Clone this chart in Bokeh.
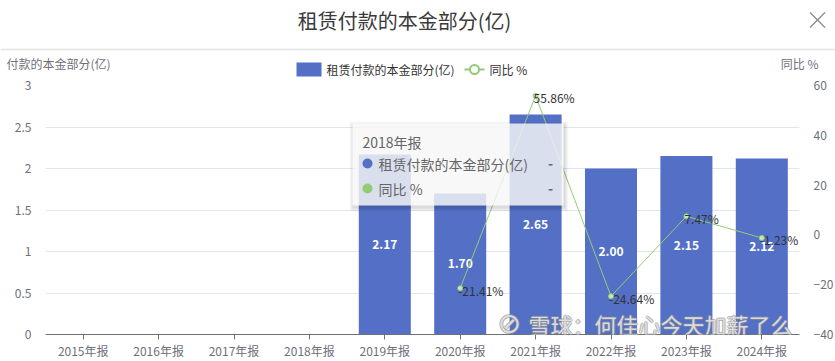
from bokeh.plotting import figure
from bokeh.models import (ColumnDataSource, FactorRange, Range1d, LinearAxis, FixedTicker,
                          NumeralTickFormatter, Label)
from bokeh.layouts import column
from bokeh.embed import file_html
from bokeh.resources import INLINE
from bokeh.core.properties import value

# ---------------- data ----------------
chart_title = "租赁付款的本金部分(亿)"
years = ["2015年报", "2016年报", "2017年报", "2018年报", "2019年报",
         "2020年报", "2021年报", "2022年报", "2023年报", "2024年报"]
principal = [None, None, None, None, 2.17, 1.70, 2.65, 2.00, 2.15, 2.12]
yoy_pct = [None, None, None, None, None, -21.41, 55.86, -24.64, 7.47, -1.23]
left_ticks = [0, 0.5, 1, 1.5, 2, 2.5, 3]
right_ticks = [-40, -20, 0, 20, 40, 60]
bar_series_name = "租赁付款的本金部分(亿)"
line_series_name = "同比 %"
left_axis_title = "付款的本金部分(亿)"   # the part visible at the left edge
right_axis_title = "同比 %"
tooltip_title = "2018年报"
tooltip_values = ["-", "-"]
watermark_text = "雪球：何佳心今天加薪了么"

FONT = "Noto Sans CJK SC"
BLUE = "#5470c6"
GREEN = "#91cc75"
AXIS_C = "#6e7079"

W = 835
HH = 77

# ---------------- header (title, close icon, axis titles, legend) ----------------
hdr = figure(width=W, height=HH, x_range=Range1d(0, W), y_range=Range1d(HH, 0),
             x_axis_type=None, y_axis_type=None, toolbar_location=None,
             output_backend="svg", min_border=0, outline_line_color=None,
             frame_align=False)
hdr.text(x=[404], y=[20], text=[chart_title], text_font=value(FONT), text_font_size="20px",
         text_align="center", text_baseline="middle", text_color="#3a3a3a")
hdr.segment(x0=[809.5, 809.5], y0=[12, 27], x1=[824.5, 824.5], y1=[27, 12],
            line_color="#8a8a8a", line_width=1.3)
hdr.segment(x0=[0], y0=[49], x1=[W], y1=[49], line_color="#e3e3e3", line_width=1.5)
hdr.text(x=[6], y=[63], text=[left_axis_title], text_font=value(FONT), text_font_size="12px",
         text_align="left", text_baseline="middle", text_color=AXIS_C)
hdr.text(x=[818], y=[63], text=[right_axis_title], text_font=value(FONT), text_font_size="12px",
         text_align="right", text_baseline="middle", text_color=AXIS_C)
# legend
LEG_Y = 69
hdr.rect(x=[308.5], y=[LEG_Y], width=25, height=14, fill_color=BLUE, line_color=None)
hdr.text(x=[326], y=[LEG_Y], text=[bar_series_name], text_font=value(FONT),
         text_font_size="12px", text_align="left", text_baseline="middle",
         text_color="#333333")
hdr.segment(x0=[464], y0=[LEG_Y], x1=[484], y1=[LEG_Y], line_color=GREEN, line_width=2)
hdr.scatter(x=[474], y=[LEG_Y], size=9, marker="circle", fill_color="white",
            line_color=GREEN, line_width=2)
hdr.text(x=[489], y=[LEG_Y], text=[line_series_name], text_font=value(FONT),
         text_font_size="12px", text_align="left", text_baseline="middle",
         text_color="#333333")

# ---------------- main chart ----------------
p = figure(x_range=FactorRange(factors=years), y_range=Range1d(0, 3),
           frame_width=754, frame_height=249,
           min_border_left=45, min_border_right=36, min_border_top=8, min_border_bottom=27,
           toolbar_location=None, output_backend="svg", outline_line_color=None,
           frame_align=False)
p.extra_y_ranges = {"pct": Range1d(-40, 60)}

p.xgrid.grid_line_color = None
p.ygrid.grid_line_color = "#e0e6f1"

ya = p.yaxis[0]
ya.ticker = FixedTicker(ticks=left_ticks)
ya.formatter = NumeralTickFormatter(format="0.[0]")
ya.axis_line_color = None
ya.major_tick_line_color = None
ya.minor_tick_line_color = None
ya.major_label_standoff = 8
ya.major_label_text_font = FONT
ya.major_label_text_font_size = "12px"
ya.major_label_text_color = AXIS_C

xa = p.xaxis[0]
xa.axis_line_color = AXIS_C
xa.major_tick_line_color = AXIS_C
xa.major_tick_out = 5
xa.major_tick_in = 0
xa.major_label_standoff = 2
xa.major_label_text_font = FONT
xa.major_label_text_font_size = "12px"
xa.major_label_text_color = AXIS_C

ra = LinearAxis(y_range_name="pct", ticker=FixedTicker(ticks=right_ticks))
ra.axis_line_color = None
ra.major_tick_line_color = None
ra.minor_tick_line_color = None
ra.major_label_standoff = 8
ra.major_label_text_font = FONT
ra.major_label_text_font_size = "12px"
ra.major_label_text_color = AXIS_C
p.add_layout(ra, "right")

bar_x = [c for c, v in zip(years, principal) if v is not None]
bar_v = [v for v in principal if v is not None]
bar_src = ColumnDataSource(dict(x=bar_x, top=bar_v, mid=[v / 2 for v in bar_v],
                                lab=[f"{v:.2f}" for v in bar_v]))
p.vbar(x="x", top="top", width=0.69, source=bar_src, fill_color=BLUE, line_color=None)
p.text(x="x", y="mid", text="lab", source=bar_src, text_font=value(FONT),
       text_font_size="12px", text_font_style="bold", text_color="white",
       text_align="center", text_baseline="middle")

ln_x = [c for c, v in zip(years, yoy_pct) if v is not None]
ln_v = [v for v in yoy_pct if v is not None]
ln_src = ColumnDataSource(dict(x=ln_x, y=ln_v, lab=[f"{v:.2f}%" for v in ln_v]))
p.line(x="x", y="y", source=ln_src, y_range_name="pct", line_color=GREEN, line_width=1)
p.scatter(x="x", y="y", source=ln_src, y_range_name="pct", marker="circle", size=5,
          fill_color="#c9e8b8", line_color=GREEN, line_width=1)
p.text(x="x", y="y", text="lab", source=ln_src, y_range_name="pct", x_offset=-2, y_offset=2,
       text_font=value(FONT), text_font_size="12px", text_color="#333333",
       text_align="left", text_baseline="middle")

# ---------------- tooltip overlay (decoration, page-pixel placement) ----------------
FRAME_L, FRAME_T, CAT_W, UNIT_H = 45.0, 85.0, 75.4, 83.0


def xs(px):
    return (px - FRAME_L) / CAT_W


def ys(py):
    return 3 - (py - FRAME_T) / UNIT_H


for g, a in [(4, 0.025), (3, 0.03), (2, 0.04), (1, 0.05)]:
    p.quad(left=[xs(352 - g + 1)], right=[xs(563 + g + 1)], top=[ys(123 - g + 2)],
           bottom=[ys(205 + g + 2)], fill_color="black", fill_alpha=a, line_color=None,
           level="overlay")
p.quad(left=[xs(352)], right=[xs(563)], top=[ys(123)], bottom=[ys(205)],
       fill_color="white", fill_alpha=0.8, line_color=None, level="overlay")
p.text(x=[xs(362)], y=[ys(141)], text=[tooltip_title], text_font=value(FONT),
       text_font_size="14px", text_color="#666666", text_align="left",
       text_baseline="middle", level="overlay")
p.scatter(x=[xs(367), xs(367)], y=[ys(163), ys(188)], size=10, marker="circle",
          fill_color=[BLUE, GREEN], line_color=None, level="overlay")
p.text(x=[xs(378), xs(378)], y=[ys(163), ys(188)], text=[bar_series_name, line_series_name],
       text_font=value(FONT), text_font_size="14px", text_color="#666666",
       text_align="left", text_baseline="middle", level="overlay")
p.text(x=[xs(550), xs(550)], y=[ys(163), ys(188)], text=tooltip_values,
       text_font=value(FONT), text_font_size="14px", text_font_style="bold",
       text_color="#666666", text_align="center", text_baseline="middle", level="overlay")

# ---------------- watermark ----------------
WM_Y = 323
for dx, dy in [(1, 0), (-1, 0), (0, 1), (0, -1)]:
    p.add_layout(Label(x=xs(497), y=ys(WM_Y), text="⊘", text_font="DejaVu Sans",
                       text_font_size="28px", text_color="#8f8f8f", text_alpha=0.6,
                       text_baseline="middle", x_offset=dx, y_offset=dy, level="overlay"))
    p.add_layout(Label(x=xs(528), y=ys(WM_Y), text=watermark_text, text_font=FONT,
                       text_font_size="22px", text_color="#8f8f8f", text_alpha=0.6,
                       text_baseline="middle", x_offset=dx, y_offset=dy, level="overlay"))
p.add_layout(Label(x=xs(497), y=ys(WM_Y), text="⊘", text_font="DejaVu Sans",
                   text_font_size="28px", text_color="white", text_alpha=0.7,
                   text_baseline="middle", level="overlay"))
p.add_layout(Label(x=xs(528), y=ys(WM_Y), text=watermark_text, text_font=FONT,
                   text_font_size="22px", text_color="white", text_alpha=0.7,
                   text_baseline="middle", level="overlay"))

layout = column(hdr, p, spacing=0)
open("out.html", "w").write(file_html(layout, INLINE))
